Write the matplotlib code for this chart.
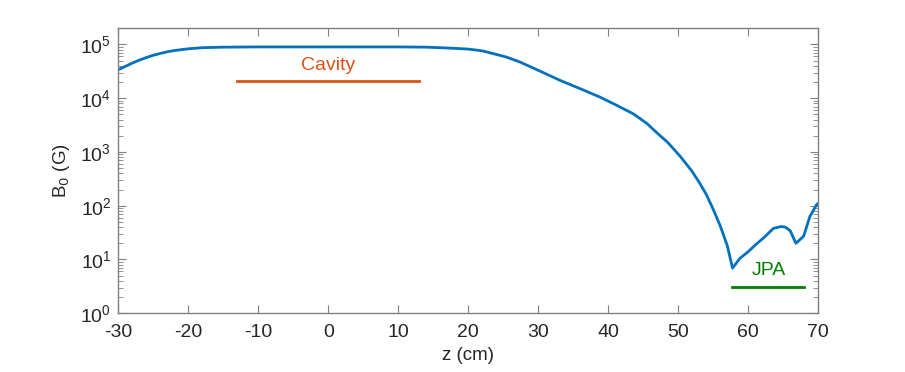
import numpy as np
import matplotlib.pyplot as plt
from matplotlib.ticker import LogLocator, FixedLocator, NullFormatter

plt.rcParams['font.family'] = ['Liberation Sans', 'DejaVu Sans']
plt.rcParams['axes.unicode_minus'] = False

# field profile along the axis
z_cm = [-30, -29, -28, -27, -26, -25, -24, -23, -22, -21, -20, -18, -15,
        -10, 0, 10, 14, 17, 20, 22, 23.1, 25.5, 27.4, 30, 33.1, 36, 38.8,
        41, 43.6, 45.5, 46.9, 48.5, 50.2, 51, 52, 53, 54, 55, 56, 57, 57.75,
        58.8, 60, 61, 62.3, 63.6, 64.7, 65.3, 66.0, 66.8, 67.9, 68.8, 69.8, 70]
b0_gauss = [3.4e4, 3.9e4, 4.5e4, 5.1e4, 5.7e4, 6.3e4, 6.8e4, 7.3e4, 7.7e4,
            8.0e4, 8.3e4, 8.7e4, 8.9e4, 9.0e4, 9.0e4, 9.0e4, 8.9e4, 8.6e4,
            8.2e4, 7.6e4, 7.0e4, 5.8e4, 4.7e4, 3.3e4, 2.15e4, 1.5e4, 1.05e4,
            7.6e3, 5.1e3, 3.4e3, 2.3e3, 1.5e3, 850, 630, 430, 270, 162, 85,
            42, 18, 6.9, 10.5, 14, 18.6, 26, 38, 41, 40, 34, 20, 27, 63, 107, 110]

cavity_z = [-13, 13]
cavity_b = [2.1e4, 2.1e4]
jpa_z = [57.7, 68]
jpa_b = [3.1, 3.1]

blue = '#0072BD'
orange = '#D95319'
green = '#008000'
grey = '#262626'

fig = plt.figure(figsize=(9.05, 3.72), dpi=100)
ax = fig.add_axes([0.1307, 0.158, 0.7735, 0.766])

ax.semilogy(z_cm, b0_gauss, color=blue, lw=2)
ax.plot(cavity_z, cavity_b, color=orange, lw=2)
ax.plot(jpa_z, jpa_b, color=green, lw=2)
ax.text(0, 4.0e4, 'Cavity', color=orange, fontsize=14, ha='center', va='center')
ax.text(63, 6.3, 'JPA', color=green, fontsize=14, ha='center', va='center')

ax.set_xlim(-30, 70)
ax.set_ylim(1, 2e5)
ax.xaxis.set_major_locator(FixedLocator(np.arange(-30, 71, 10)))
ax.yaxis.set_major_locator(LogLocator(base=10, numticks=10))
ax.yaxis.set_minor_locator(LogLocator(base=10, subs=np.arange(2, 10), numticks=20))
ax.yaxis.set_minor_formatter(NullFormatter())

ax.set_xlabel('z (cm)', fontsize=13.5, color=grey, labelpad=4)
ax.set_ylabel('B$_0$ (G)', fontsize=13.5, color=grey, labelpad=6)

for s in ax.spines.values():
    s.set_color('#808080')
    s.set_linewidth(1)
ax.tick_params(which='both', direction='in', top=True, right=True,
               colors='#808080', labelcolor=grey, labelsize=14)
ax.tick_params(axis='x', pad=8)
ax.tick_params(axis='y', pad=5)
ax.tick_params(which='major', length=6)
ax.tick_params(which='minor', length=3.5)

fig.savefig('out.png', dpi=100)
